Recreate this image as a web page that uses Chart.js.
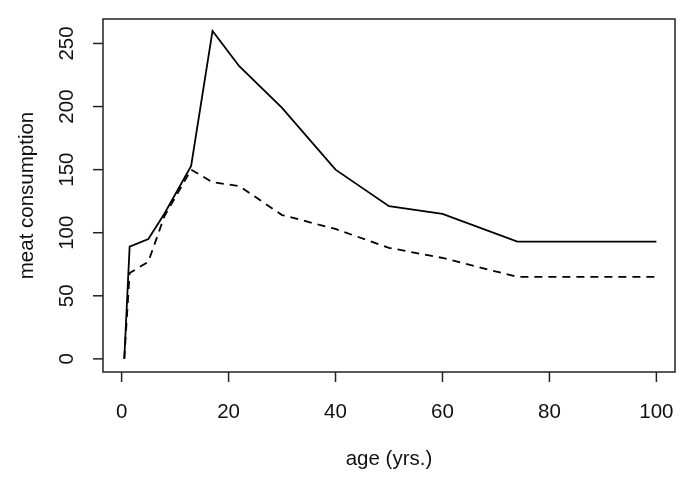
<!DOCTYPE html>
<html>
<head>
<meta charset="utf-8">
<script src="https://cdn.jsdelivr.net/npm/chart.js@4"></script>
<style>
  html, body { margin: 0; padding: 0; background: #fff; }
  #wrap { width: 685px; height: 478px; }
</style>
</head>
<body>
<div id="wrap"><canvas id="meatChart" width="685" height="478"></canvas></div>
<script>
// ages (yrs.) where the curves bend
const ages = [0.5, 1.5, 5, 8, 13, 17, 22, 30, 40, 50, 60, 74, 100];
// meat consumption, solid curve
const solidValues = [0, 89, 95, 115, 153, 260, 232, 199, 150, 121, 115, 93, 93];
// meat consumption, dashed curve
const dashedValues = [0, 68, 77, 113, 150, 140, 137, 114, 103, 88, 80, 65, 65];

const xTicks = [0, 20, 40, 60, 80, 100];
const yTicks = [0, 50, 100, 150, 200, 250];
const xTitle = 'age (yrs.)';
const yTitle = 'meat consumption';

const font = '"Liberation Sans", Arial, Helvetica, sans-serif';

// R style axes: box, outward ticks, rotated y labels
const baseAxes = {
    id: 'baseAxes',
    afterDraw(chart) {
        const ctx = chart.ctx;
        const area = chart.chartArea;
        const xs = chart.scales.x;
        const ys = chart.scales.y;
        ctx.save();
        ctx.strokeStyle = '#222';
        ctx.lineWidth = 1.5;
        ctx.strokeRect(area.left, area.top, area.right - area.left, area.bottom - area.top);

        ctx.fillStyle = '#111';
        ctx.font = '20.5px ' + font;
        ctx.textAlign = 'center';
        ctx.textBaseline = 'middle';

        xTicks.forEach(t => {
            const px = xs.getPixelForValue(t);
            ctx.beginPath();
            ctx.moveTo(px, area.bottom);
            ctx.lineTo(px, area.bottom + 10);
            ctx.stroke();
            ctx.fillText(String(t), px, 412);
        });

        yTicks.forEach(t => {
            const py = ys.getPixelForValue(t);
            ctx.beginPath();
            ctx.moveTo(area.left, py);
            ctx.lineTo(area.left - 10, py);
            ctx.stroke();
            ctx.save();
            ctx.translate(67, py);
            ctx.rotate(-Math.PI / 2);
            ctx.fillText(String(t), 0, 0);
            ctx.restore();
        });

        ctx.fillText(xTitle, (area.left + area.right) / 2, 459);
        ctx.save();
        ctx.translate(27, (area.top + area.bottom) / 2);
        ctx.rotate(-Math.PI / 2);
        ctx.fillText(yTitle, 0, 0);
        ctx.restore();
        ctx.restore();
    }
};

new Chart(document.getElementById('meatChart'), {
    type: 'line',
    data: {
        datasets: [{
            label: 'solid',
            data: ages.map((a, i) => ({ x: a, y: solidValues[i] })),
            borderColor: '#000',
            borderWidth: 1.8,
            pointRadius: 0,
            tension: 0,
            fill: false
        }, {
            label: 'dashed',
            data: ages.map((a, i) => ({ x: a, y: dashedValues[i] })),
            borderColor: '#000',
            borderWidth: 1.8,
            borderDash: [8, 6],
            pointRadius: 0,
            tension: 0,
            fill: false
        }]
    },
    options: {
        responsive: false,
        animation: false,
        events: [],
        layout: { padding: { left: 103, right: 10, top: 19, bottom: 106 } },
        scales: {
            x: { type: 'linear', min: -3.48, max: 103.48, display: false },
            y: { type: 'linear', min: -10.4, max: 269.4, display: false }
        },
        plugins: {
            legend: { display: false },
            tooltip: { enabled: false }
        }
    },
    plugins: [baseAxes]
});
</script>
</body>
</html>
